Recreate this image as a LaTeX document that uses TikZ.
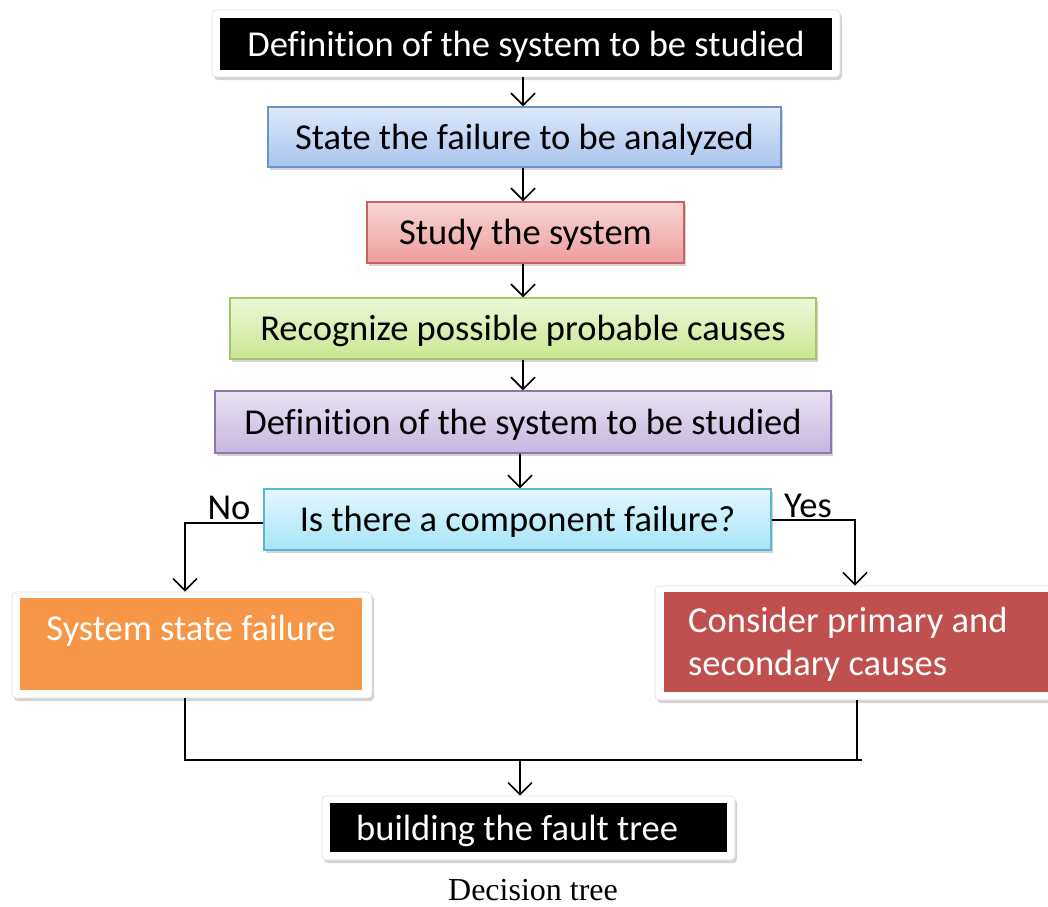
\documentclass[tikz,border=0pt]{standalone}
\usepackage{fontspec}
\setmainfont{Carlito}[Ligatures=NoCommon]
\newfontfamily\capfont{Liberation Serif}
\usetikzlibrary{arrows.meta,shadows}
\definecolor{blueTop}{HTML}{DDE9F9}
\definecolor{blueBot}{HTML}{A8C4EE}
\definecolor{blueLine}{HTML}{6E93C8}
\definecolor{redTop}{HTML}{FAD6D6}
\definecolor{redBot}{HTML}{EE9C9C}
\definecolor{redLine}{HTML}{C9625F}
\definecolor{greenTop}{HTML}{EEF8D8}
\definecolor{greenBot}{HTML}{C9E690}
\definecolor{greenLine}{HTML}{A6C46A}
\definecolor{purpleTop}{HTML}{E9E2F2}
\definecolor{purpleBot}{HTML}{C7B6DE}
\definecolor{purpleLine}{HTML}{8F77AE}
\definecolor{cyanTop}{HTML}{E2F7FD}
\definecolor{cyanBot}{HTML}{A6E5F7}
\definecolor{cyanLine}{HTML}{5DB6CF}
\definecolor{orangeFill}{HTML}{F79646}
\definecolor{brickFill}{HTML}{C0504D}
\tikzset{
  x=1pt, y=-1pt,
  boxfont/.style={font=\fontsize{36.5}{43}\selectfont},
  oneline/.style={boxfont, text height=26pt, text depth=2pt},
  shade/.style={drop shadow={opacity=0.35,shadow xshift=2pt,shadow yshift=-3pt}},
  frame/.style={fill=white, draw=black!12, line width=0.6pt, rounded corners=4pt, shade, inner sep=0pt},
  darkbox/.style={fill=black, text=white, inner sep=0pt, oneline},
  stepbox/.style={draw=#1Line, line width=1.2pt, top color=#1Top, bottom color=#1Bot,
    shade, inner sep=0pt, oneline},
  flatbox/.style={fill=#1, inner sep=0pt},
  whitetext/.style={text=white, inner sep=0pt, oneline},
  conn/.style={line width=1.7pt, draw=black},
  arr/.style={conn, -{Straight Barb[length=12pt,width=24pt,line width=1.7pt]}},
  lbl/.style={boxfont, inner sep=0pt}
}
\begin{document}
\begin{tikzpicture}
\useasboundingbox (0,0) rectangle (1048,906);

% top black box in a white frame
\node[frame, minimum width=628pt, minimum height=67pt] (f1) at (526,43.5) {};
\node[darkbox, minimum width=612pt, minimum height=52pt] (s1) at (526,44)
  {Definition of the system to be studied};

% shaded process steps
\node[stepbox=blue, minimum width=513pt, minimum height=60pt] (s2) at (524.5,137)
  {State the failure to be analyzed};
\node[stepbox=red, minimum width=317pt, minimum height=61pt] (s3) at (525.5,232.5)
  {Study the system};
\node[stepbox=green, minimum width=586pt, minimum height=61pt] (s4) at (523,328.5)
  {Recognize possible probable causes};
\node[stepbox=purple, minimum width=616pt, minimum height=62pt] (s5) at (523,422)
  {Definition of the system to be studied};
\node[stepbox=cyan, minimum width=507pt, minimum height=61pt] (s6) at (517.5,519.5)
  {Is there a component failure?};

% the two outcomes
\node[frame, minimum width=360pt, minimum height=106pt] (f7) at (192,645) {};
\node[flatbox=orangeFill, minimum width=342pt, minimum height=92pt] (s7) at (191,644) {};
\node[whitetext] (t7) at (191,628) {System state failure};

\node[frame, minimum width=400pt, minimum height=114pt] (f8) at (855,643) {};
\node[flatbox=brickFill, minimum width=384pt, minimum height=100pt] (s8) at (856,642) {};
\node[text=white, inner sep=0pt, boxfont, anchor=west, align=left] (t8)
  at (688,644) {Consider primary and\\secondary causes};

% final black box in a white frame
\node[frame, minimum width=413pt, minimum height=64pt] (f9) at (528.5,828) {};
\node[darkbox, minimum width=397pt, minimum height=49pt] (s9) at (528.5,827.5) {};
\node[whitetext, anchor=west] (t9) at (356,828) {building the fault tree};

% caption
\node[font=\capfont\fontsize{32}{38}\selectfont, inner sep=0pt] (cap) at (533,890) {Decision tree};

% main chain of arrows
\draw[arr] (f1.south -| 523,0) -- (s2.north -| 523,0);
\draw[arr] (s2.south -| 523,0) -- (s3.north -| 523,0);
\draw[arr] (s3.south -| 523,0) -- (s4.north -| 523,0);
\draw[arr] (s4.south -| 523,0) -- (s5.north -| 523,0);
\draw[arr] (s5.south -| 520,0) -- (s6.north -| 520,0);

% branches
\coordinate (noL) at (185,523);
\coordinate (yesR) at (855,520);
\draw[arr] (s6.west |- noL) -- (noL) -- (f7.north -| noL);
\draw[arr] (s6.east |- yesR) -- (yesR) -- (f8.north -| yesR);
\node[lbl, anchor=base] (no) at (229,519) {No};
\node[lbl, anchor=base] (yes) at (808,517) {Yes};

% merge into the final box
\coordinate (mL) at (185,760);
\coordinate (mR) at (857,760);
\coordinate (mE) at (862,760);
\coordinate (mC) at (520,760);
\draw[conn] (f7.south -| mL) -- (mL) -- (mE);
\draw[conn] (f8.south -| mR) -- (mR);
\draw[arr] (mC) -- (f9.north -| mC);
\end{tikzpicture}
\end{document}
